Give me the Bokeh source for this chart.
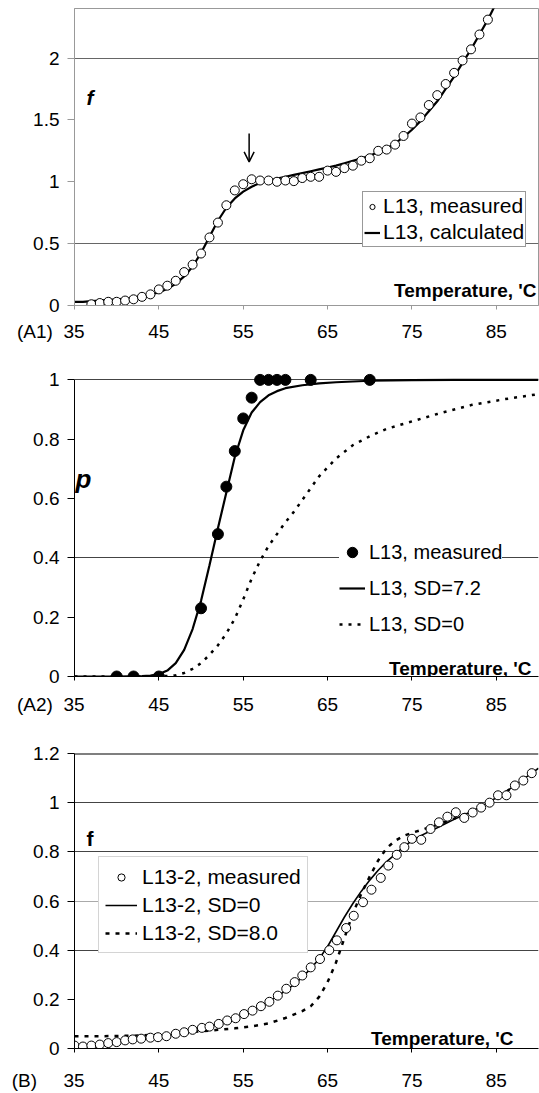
from bokeh.plotting import figure
from bokeh.layouts import column
from bokeh.models import (Range1d, FixedTicker, Label, Legend, LegendItem,
                          Arrow, OpenHead, Grid, Span)
from bokeh.embed import file_html
from bokeh.resources import INLINE

FONT = "Liberation Sans"
NBSP = "\u00a0"

# ---------------- data ----------------
temp_ticks = [35, 45, 55, 65, 75, 85]
panel_tags = ["(A1)", "(A2)", "(B)"]

# Panel A1
a1_yticks = [0, 0.5, 1, 1.5, 2]
a1_ylabels = ["0", "0.5", "1", "1.5", "2"]
a1_meas_t = [37, 38, 39, 40, 41, 42, 43, 44, 45, 46, 47, 48, 49, 50, 51, 52,
             53, 54, 55, 56, 57, 58, 59, 60, 61, 62, 63, 64, 65, 66, 67, 68,
             69, 70, 71, 72, 73, 74, 75, 76, 77, 78, 79, 80, 81, 82, 83, 84]
a1_meas_f = [0.01, 0.02, 0.03, 0.03, 0.04, 0.05, 0.07, 0.09, 0.13, 0.16,
             0.20, 0.27, 0.33, 0.42, 0.55, 0.67, 0.81, 0.93, 0.98, 1.02,
             1.01, 1.01, 1.00, 1.01, 1.005, 1.03, 1.04, 1.04, 1.09, 1.08,
             1.11, 1.13, 1.17, 1.19, 1.25, 1.26, 1.30, 1.37, 1.47, 1.52,
             1.62, 1.70, 1.79, 1.88, 1.98, 2.07, 2.19, 2.31]
a1_calc_t = [35, 36, 37, 38, 39, 40, 41, 42, 43, 44, 45, 46, 47, 48, 49, 50,
             51, 52, 53, 54, 55, 56, 57, 58, 59, 60, 61, 62, 63, 64, 65, 66,
             67, 68, 69, 70, 71, 72, 73, 74, 75, 76, 77, 78, 79, 80, 81, 82,
             83, 84, 85.1]
a1_calc_f = [0.03, 0.03, 0.035, 0.04, 0.045, 0.05, 0.055, 0.065, 0.075, 0.09,
             0.105, 0.135, 0.175, 0.235, 0.315, 0.425, 0.555, 0.685, 0.79, 0.865,
             0.92, 0.96, 0.99, 1.01, 1.025, 1.04, 1.055, 1.07, 1.085, 1.10,
             1.115, 1.13, 1.15, 1.17, 1.19, 1.21, 1.24, 1.27, 1.31, 1.36,
             1.42, 1.49, 1.57, 1.65, 1.75, 1.85, 1.96, 2.07, 2.19, 2.31, 2.46]

# Panel A2
a2_yticks = [0, 0.2, 0.4, 0.6, 0.8, 1]
a2_ylabels = ["0", "0.2", "0.4", "0.6", "0.8", "1"]
a2_meas_t = [40, 42, 45, 50, 52, 53, 54, 55, 56, 57, 58, 59, 60, 63, 70]
a2_meas_p = [0, 0, 0, 0.23, 0.48, 0.64, 0.76, 0.87, 0.94, 1, 1, 1, 1, 1, 1]
a2_sd72_t = [35, 40, 43, 44, 45, 46, 47, 48, 49, 50, 51, 52, 53, 54, 55, 56,
             57, 58, 59, 60, 62, 64, 66, 70, 75, 80, 90]
a2_sd72_p = [0, 0, 0.001, 0.003, 0.008, 0.02, 0.045, 0.09, 0.16, 0.255, 0.375,
             0.50, 0.62, 0.74, 0.83, 0.89, 0.925, 0.948, 0.962, 0.972, 0.982,
             0.988, 0.992, 0.997, 0.999, 1.0, 1.0]
a2_sd0_t = [35, 45, 47, 48, 49, 50, 51, 52, 53, 54, 55, 56, 57, 58, 59, 60,
            61, 62, 63, 64, 65, 66, 68, 70, 72, 75, 78, 82, 86, 90]
a2_sd0_p = [0, 0, 0.004, 0.012, 0.026, 0.045, 0.073, 0.105, 0.145, 0.195,
            0.26, 0.33, 0.39, 0.44, 0.48, 0.52, 0.555, 0.595, 0.635, 0.675,
            0.705, 0.735, 0.78, 0.81, 0.835, 0.86, 0.885, 0.915, 0.935, 0.952]

# Panel B
b_yticks = [0, 0.2, 0.4, 0.6, 0.8, 1, 1.2]
b_ylabels = ["0", "0.2", "0.4", "0.6", "0.8", "1", "1.2"]
b_meas_t = [35.0, 36.0, 37.0, 38.0, 39.0, 40.0, 41.0, 41.9, 42.9, 44.0, 44.9,
            45.9, 47.0, 48.0, 49.0, 50.1, 51.0, 52.1, 53.1, 54.1, 55.1, 56.1,
            57.1, 58.1, 59.1, 60.1, 61.1, 62.0, 63.0, 64.1, 65.2, 66.1, 67.2,
            68.1, 69.2, 70.2, 71.3, 72.2, 73.2, 74.1, 75.0, 76.1, 77.2, 78.2,
            79.2, 80.2, 81.2, 82.2, 83.2, 84.2, 85.2, 86.2, 87.2, 88.2, 89.2]
b_meas_f = [0.012, 0.008, 0.012, 0.016, 0.022, 0.026, 0.033, 0.037, 0.04,
            0.044, 0.046, 0.05, 0.06, 0.066, 0.076, 0.084, 0.089, 0.10, 0.114,
            0.123, 0.14, 0.154, 0.172, 0.19, 0.215, 0.243, 0.27, 0.297, 0.33,
            0.364, 0.40, 0.44, 0.49, 0.54, 0.595, 0.646, 0.694, 0.744, 0.788,
            0.819, 0.853, 0.849, 0.893, 0.92, 0.943, 0.961, 0.938, 0.96, 0.98,
            1.0, 1.03, 1.03, 1.07, 1.09, 1.12]
b_sd0_t = [35, 37, 40, 42, 44, 46, 48, 50, 52, 54, 56, 58, 60, 61, 62, 63, 64,
           65, 66, 67, 68, 69, 70, 71, 72, 73, 74, 75, 76, 77, 78, 79, 80, 81,
           82, 83, 84, 85, 86, 87, 88, 89, 90]
b_sd0_f = [0.01, 0.013, 0.024, 0.033, 0.043, 0.053, 0.066, 0.081, 0.098, 0.122,
           0.152, 0.19, 0.235, 0.26, 0.29, 0.325, 0.365, 0.415, 0.475, 0.535,
           0.59, 0.64, 0.685, 0.725, 0.76, 0.79, 0.82, 0.845, 0.865, 0.882,
           0.898, 0.915, 0.932, 0.948, 0.963, 0.98, 1.0, 1.02, 1.042, 1.065,
           1.09, 1.115, 1.14]
b_sd8_t = [35, 38, 42, 45, 48, 50, 52, 54, 56, 58, 60, 62, 63, 64, 65, 66, 67,
           68, 69, 70, 71, 72, 73, 74, 75, 76, 78, 80, 82, 84, 86, 88, 90]
b_sd8_f = [0.05, 0.05, 0.052, 0.057, 0.064, 0.07, 0.076, 0.082, 0.09, 0.102,
           0.124, 0.152, 0.172, 0.21, 0.27, 0.35, 0.45, 0.55, 0.63, 0.70,
           0.765, 0.815, 0.845, 0.865, 0.877, 0.888, 0.91, 0.935, 0.965, 1.0,
           1.04, 1.09, 1.14]


# ---------------- helpers ----------------
def make_fig(height, top, bottom, left, y_end, yticks, ylabels, axis_color,
             tag, gap, pad):
    p = figure(width=539, height=height, x_range=Range1d(35, 90),
               y_range=Range1d(0, y_end), output_backend="svg",
               toolbar_location=None, min_border_top=top,
               min_border_bottom=bottom, min_border_left=left,
               min_border_right=1, background_fill_color="white",
               border_fill_color="white")
    p.xaxis.ticker = FixedTicker(ticks=temp_ticks)
    # panel tag shares the baseline of the first x tick label
    first = temp_ticks[0]
    p.xaxis.major_label_overrides = {
        first: tag + NBSP * gap + str(first) + NBSP * pad}
    p.yaxis.ticker = FixedTicker(ticks=yticks)
    p.yaxis.major_label_overrides = dict(zip(yticks, ylabels))
    for ax in (p.xaxis[0], p.yaxis[0]):
        ax.major_label_text_font = FONT
        ax.major_label_text_font_size = "19px"
        ax.major_label_text_color = "black"
        ax.axis_line_color = axis_color
        ax.major_tick_line_color = axis_color
        ax.minor_tick_line_color = None
        ax.major_tick_in = 0
    p.yaxis.major_tick_out = 7
    p.yaxis.major_label_standoff = 8
    p.xaxis.major_tick_out = 4
    p.xgrid.visible = False
    return p


def add_text(p, x, y, text, size, style="normal", align="left",
             baseline="alphabetic"):
    p.add_layout(Label(x=x, y=y, x_units="screen", y_units="screen",
                       text=text, text_font=FONT, text_font_size=size,
                       text_font_style=style, text_align=align,
                       text_baseline=baseline, text_color="black"))


# ---------------- panel A1 ----------------
p1 = make_fig(345, 8, 40, 70, 2.4, a1_yticks, a1_ylabels, "#999999",
              panel_tags[0], 2, 9)
p1.outline_line_color = "#999999"
p1.ygrid.ticker = FixedTicker(ticks=[0.5, 2])
p1.ygrid.grid_line_color = "#666666"
p1.xaxis.major_label_standoff = 11
r1c = p1.line(a1_calc_t, a1_calc_f, line_color="black", line_width=2.2)
r1m = p1.scatter(a1_meas_t, a1_meas_f, marker="circle", size=9,
                 fill_color="white", line_color="black", line_width=1)
leg1 = Legend(items=[LegendItem(label="L13, measured", renderers=[r1m]),
                     LegendItem(label="L13, calculated", renderers=[r1c])],
              location=(288, 58), padding=1, spacing=0, glyph_width=16,
              glyph_height=13, label_height=26, label_standoff=3,
              label_text_font=FONT, label_text_font_size="21px",
              label_text_color="black",
              border_line_color="#333333", border_line_width=1,
              background_fill_color="white", background_fill_alpha=1)
p1.add_layout(leg1)
p1.add_layout(Arrow(end=OpenHead(size=10, line_width=1.5, line_color="black"),
                    x_start=55.7, y_start=1.39, x_end=55.7, y_end=1.16,
                    line_width=1.5, line_color="black"))
add_text(p1, 12, 208, "f", "21px", "bold italic")
add_text(p1, 462, 15, "Temperature, 'C", "19px", "bold", "right")

# ---------------- panel A2 ----------------
p2 = make_fig(375, 24, 44, 73, 1.035, a2_yticks, a2_ylabels, "black",
              panel_tags[1], 2, 9)
p2.outline_line_color = None
p2.yaxis.bounds = (0, 1)
p2.ygrid.ticker = FixedTicker(ticks=[0.4, 1])
p2.ygrid.grid_line_color = "#444444"
p2.xaxis.major_label_standoff = 13
r2s = p2.line(a2_sd72_t, a2_sd72_p, line_color="black", line_width=2.2)
r2d = p2.line(a2_sd0_t, a2_sd0_p, line_color="black", line_width=2.5,
              line_dash="3 6")
r2m = p2.scatter(a2_meas_t, a2_meas_p, marker="circle", size=11,
                 fill_color="black", line_color="black")
leg2 = Legend(items=[LegendItem(label="L13, measured", renderers=[r2m]),
                     LegendItem(label="L13, SD=7.2", renderers=[r2s]),
                     LegendItem(label="L13, SD=0", renderers=[r2d])],
              location=(265, 37), padding=10, spacing=6, glyph_width=26,
              glyph_height=26, label_height=30, label_standoff=4,
              label_text_font=FONT, label_text_font_size="20px",
              label_text_color="black",
              border_line_color=None, background_fill_color="white",
              background_fill_alpha=1)
p2.add_layout(leg2)
add_text(p2, 1, 198, "p", "26px", "bold italic")
add_text(p2, 457, 8, "Temperature, 'C", "19px", "bold", "right")

# ---------------- panel B ----------------
p3 = make_fig(373, 33, 45, 74, 1.2, b_yticks, b_ylabels, "black",
              panel_tags[2], 5, 10)
p3.outline_line_color = None
p3.ygrid.ticker = FixedTicker(ticks=[0.4, 0.8, 1])
p3.ygrid.grid_line_color = "#444444"
p3.add_layout(Grid(dimension=1, ticker=FixedTicker(ticks=[0.6]),
                   grid_line_color="#aaaaaa"))
p3.add_layout(Span(location=1.2, dimension="width", line_color="black",
                   line_width=2))
p3.xaxis.major_label_standoff = 17
r3s = p3.line(b_sd0_t, b_sd0_f, line_color="black", line_width=1.6)
r3d = p3.line(b_sd8_t, b_sd8_f, line_color="black", line_width=2.5,
              line_dash="4 6")
r3m = p3.scatter(b_meas_t, b_meas_f, marker="circle", size=9,
                 fill_color="white", line_color="black", line_width=1)
leg3 = Legend(items=[LegendItem(label="L13-2, measured", renderers=[r3m]),
                     LegendItem(label="L13-2, SD=0", renderers=[r3s]),
                     LegendItem(label="L13-2, SD=8.0", renderers=[r3d])],
              location=(24, 95), padding=6, spacing=1, glyph_width=32,
              glyph_height=18, label_height=27, label_standoff=5,
              label_text_font=FONT, label_text_font_size="21px",
              label_text_color="black",
              border_line_color="#aaaaaa", border_line_width=1,
              background_fill_color="white", background_fill_alpha=1)
p3.add_layout(leg3)
add_text(p3, 12, 210, "f", "21px", "bold")
add_text(p3, 439, 10, "Temperature, 'C", "19px", "bold", "right")

layout = column(p1, p2, p3)
open("out.html", "w").write(file_html(layout, INLINE))
